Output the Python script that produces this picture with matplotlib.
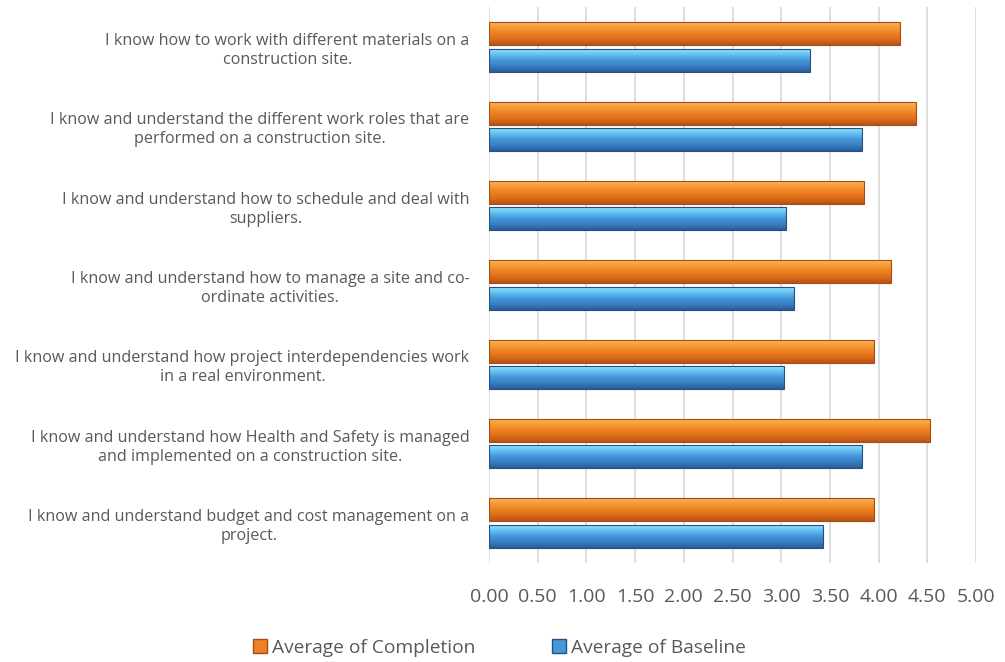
import matplotlib.pyplot as plt
import numpy as np
from matplotlib.colors import LinearSegmentedColormap
from matplotlib.patches import Patch

# categories, top to bottom
categories = [
    "I know how to work with different materials on a\nconstruction site.",
    "I know and understand the different work roles that are\nperformed on a construction site.",
    "I know and understand how to schedule and deal with\nsuppliers.",
    "I know and understand how to manage a site and co-\nordinate activities.",
    "I know and understand how project interdependencies work\nin a real environment.",
    "I know and understand how Health and Safety is managed\nand implemented on a construction site.",
    "I know and understand budget and cost management on a\nproject.",
]
completion = [4.22, 4.38, 3.85, 4.13, 3.95, 4.53, 3.95]
baseline = [3.30, 3.83, 3.05, 3.13, 3.03, 3.83, 3.43]
xticks = [0, 0.5, 1.0, 1.5, 2.0, 2.5, 3.0, 3.5, 4.0, 4.5, 5.0]

orange_grad = ["#FBB864", "#F59C36", "#EE8222", "#DD6E1A", "#B85216"]
blue_grad = ["#9BE6FC", "#66C4F3", "#4597DA", "#3A7FC4", "#295D99"]

plt.rcParams['font.family'] = ['Open Sans', 'DejaVu Sans']
txt = "#595959"

fig = plt.figure(figsize=(10.05, 6.62), dpi=100)
ax = fig.add_axes([489 / 1005, 1 - 562.7 / 662, 487 / 1005, 555.4 / 662])

y = np.arange(len(categories))
h = 0.29
off = 0.165


def gradient_bars(bars, colors, edge):
    cmap = LinearSegmentedColormap.from_list("g", colors)
    grad = np.linspace(0, 1, 64).reshape(-1, 1)
    for b in bars:
        b.set_facecolor("none")
        b.set_edgecolor(edge)
        b.set_linewidth(0.8)
        x0, y0 = b.get_x(), b.get_y()
        w, hh = b.get_width(), b.get_height()
        im = ax.imshow(grad, cmap=cmap, aspect="auto", origin="upper",
                       extent=(x0, x0 + w, y0 + hh, y0), zorder=2)
        im.set_clip_path(b)
        b.set_zorder(3)


b1 = ax.barh(y - off, completion, height=h, zorder=3)
b2 = ax.barh(y + off, baseline, height=h, zorder=3)
gradient_bars(b1, orange_grad, "#A84B14")
gradient_bars(b2, blue_grad, "#284F80")

ax.set_xlim(0, 5)
ax.set_ylim(len(categories) - 0.5, -0.5)
ax.set_xticks(xticks)
ax.set_xticklabels([f"{v:.2f}" for v in xticks], fontsize=14, color=txt)
ax.set_yticks(y)
ax.set_yticklabels(categories, fontsize=11.6, color=txt,
                   multialignment="center", linespacing=1.25)
ax.tick_params(axis="x", length=0, pad=18)
ax.tick_params(axis="y", length=0, pad=14)
ax.grid(axis="x", color="#D9D9D9", linewidth=1.2, zorder=0)
ax.set_axisbelow(True)
for s in ax.spines.values():
    s.set_visible(False)

handles = [Patch(facecolor="#EE8222", edgecolor="#A84B14"),
           Patch(facecolor="#4597DA", edgecolor="#284F80")]
fig.legend(handles, ["Average of Completion", "Average of Baseline"],
           loc="center", bbox_to_anchor=(0.497, 1 - 648 / 662), ncol=2,
           frameon=False, fontsize=13.8, labelcolor=txt,
           handlelength=0.75, handleheight=0.75, handletextpad=0.25,
           columnspacing=4.0)

fig.savefig("out.png", dpi=100)
